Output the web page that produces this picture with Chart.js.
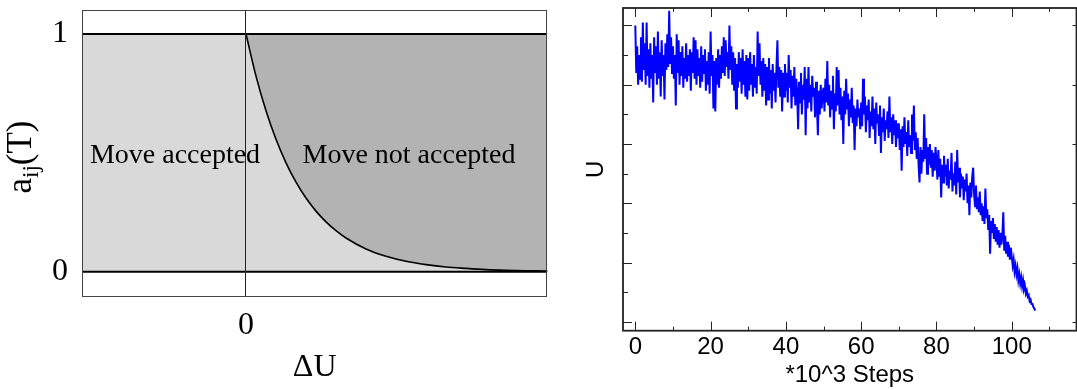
<!DOCTYPE html>
<html><head><meta charset="utf-8">
<script src="https://cdn.jsdelivr.net/npm/chart.js@4/dist/chart.umd.min.js"></script>
<style>
html,body{margin:0;padding:0;background:#fff;overflow:hidden}
#wrap{position:relative;width:1077px;height:390px;background:#fff}
#c1{position:absolute;left:0;top:0}
#c2{position:absolute;left:560px;top:0}
</style></head><body>
<div id="wrap">
<canvas id="c1" width="560" height="390"></canvas>
<canvas id="c2" width="517" height="390"></canvas>
</div>
<script>
// ---------- Left panel data ----------
const deltaU = [0, 0.1, 0.2, 0.3, 0.4, 0.5, 0.6, 0.7, 0.8, 0.9, 1.0, 1.2, 1.4, 1.6, 1.8, 2.0, 2.2, 2.4, 2.6, 2.8, 3.0, 3.05];
const acceptance = [1.000, 0.823, 0.677, 0.557, 0.458, 0.377, 0.310, 0.255, 0.210, 0.173, 0.142, 0.096, 0.065, 0.044, 0.030, 0.020, 0.014, 0.009, 0.006, 0.004, 0.003, 0.002];
const deltaURange = [-1.64, 3.013];
const leftTicksX = [0];
const leftTicksY = [0, 1];
const regionLabels = ['Move accepted', 'Move not accepted'];
const leftXTitle = 'ΔU';

// ---------- Right panel data ----------
const SAMPLE_SPACING = 0.25; // *10^3 steps between samples
const energyU = [
10.0,8.4,9.3,8.0,9.0,8.2,9.6,8.1,10.1,8.5,9.4,8.0,10.1,8.3,9.2,7.9,9.4,8.2,9.0,7.4,
9.6,8.4,9.3,8.0,9.8,8.2,9.1,7.6,9.5,8.3,9.0,7.5,9.4,8.5,9.7,8.6,10.5,8.7,9.6,8.4,
9.3,8.2,9.0,7.3,9.7,8.4,9.5,8.0,9.1,8.3,9.3,7.9,8.9,8.2,9.4,8.1,9.0,8.3,9.2,7.8,
9.1,8.4,9.6,8.2,9.5,8.0,9.2,8.3,8.9,7.9,9.3,8.1,9.0,8.4,9.2,7.8,8.8,8.0,9.1,7.7,
9.8,8.3,9.0,7.2,8.8,7.1,8.9,8.0,9.2,7.9,9.0,8.2,9.3,8.4,9.6,8.3,9.5,8.6,9.1,8.2,
10.0,8.5,9.3,8.0,9.1,7.8,8.9,7.2,8.7,7.9,9.1,8.1,8.9,7.7,9.2,8.0,8.8,7.6,9.0,7.5,
8.9,7.8,9.1,8.0,8.7,7.6,9.0,7.9,8.6,7.7,9.8,8.3,9.4,8.0,8.8,7.6,8.9,7.8,8.7,7.3,
8.6,7.5,8.9,7.7,8.5,7.2,8.7,7.8,8.4,7.4,8.6,9.5,7.9,8.6,7.6,8.5,7.1,8.4,7.6,8.7,
7.8,8.4,7.4,9.0,7.9,8.5,7.2,8.3,7.6,8.6,7.3,8.2,7.7,6.5,8.1,7.4,8.4,7.0,8.0,7.5,
8.6,6.3,8.2,7.2,8.6,7.4,8.0,7.1,8.3,7.6,7.9,6.9,8.1,7.3,6.3,7.8,7.0,8.0,7.2,7.7,
7.9,7.1,8.2,7.4,8.8,7.3,8.0,6.9,7.8,7.2,8.3,6.5,7.7,7.1,8.6,7.3,8.5,7.0,7.9,6.8,
7.6,6.0,7.8,7.0,8.2,7.2,7.7,6.6,7.5,6.9,7.9,6.7,7.3,5.8,7.2,6.6,7.5,6.9,7.2,6.5,
7.4,6.6,8.2,7.0,7.6,6.4,7.3,6.8,7.5,6.2,7.1,6.6,7.6,6.5,7.2,6.0,7.4,6.7,7.0,6.3,
7.3,5.7,6.9,6.4,7.2,6.1,6.8,6.5,7.1,6.2,7.6,6.4,6.9,6.0,7.0,6.3,6.8,5.9,6.7,6.2,
6.7,5.8,6.5,5.1,6.6,5.9,6.9,6.0,6.4,5.6,6.8,5.9,6.3,5.7,7.0,6.1,7.3,5.8,6.4,5.5,
6.2,5.3,4.7,5.9,5.0,5.8,5.4,7.0,5.5,6.2,5.0,5.9,5.3,6.0,5.2,5.8,4.9,5.7,5.1,5.9,
5.4,4.8,5.8,4.9,5.5,4.2,5.3,4.7,5.6,4.9,5.3,4.6,5.5,4.5,5.1,4.8,5.7,4.4,5.0,4.6,
5.4,4.3,5.8,4.7,5.2,4.2,5.0,4.5,4.9,4.1,4.8,4.4,5.0,4.0,4.6,3.6,4.7,4.2,4.9,5.2,
4.3,3.9,4.6,3.8,4.2,3.7,4.4,3.6,4.0,3.4,3.9,3.3,4.5,3.5,3.8,3.1,3.6,2.3,3.4,3.0,
3.5,2.8,3.3,2.7,3.2,2.6,3.1,2.5,3.0,2.6,2.9,3.7,2.4,2.9,2.3,2.7,2.2,2.6,2.1,2.5,
2.2,1.9,2.1,1.7,1.9,1.6,1.8,1.4,1.6,1.3,1.5,1.2,1.4,1.1,1.2,0.95,1.05,0.85,0.9,0.7,
0.75,0.6,0.6,0.5,0.45,0.38
];
const stepsK = energyU.map((_, i) => i * SAMPLE_SPACING);
const stepsRange = [-3.27, 117.2];
const uRange = [-0.30, 10.59];
const stepTickInterval = 10;
const stepLabelInterval = 20;
const uTickInterval = 1;
const rightXTitle = '*10^3 Steps';
const rightYTitle = 'U';

function noOverflow(s) { s.paddingTop = 0; s.paddingBottom = 0; s.paddingLeft = 0; s.paddingRight = 0; }

// ---------- Left chart ----------
const serif = 'Liberation Serif';
const leftDecor = {
  id: 'leftDecor',
  afterDraw(chart) {
    const {ctx, chartArea: a, scales: {x, y}} = chart;
    ctx.save();
    // frame
    ctx.strokeStyle = '#444';
    ctx.lineWidth = 1;
    ctx.strokeRect(Math.round(a.left) + 0.5, Math.round(a.top) + 0.5, Math.round(a.right - a.left) - 1, Math.round(a.bottom - a.top));
    // region labels
    ctx.fillStyle = '#000';
    ctx.font = '28px "' + serif + '"';
    ctx.textAlign = 'center';
    ctx.textBaseline = 'middle';
    const pos = chart.options.plugins.leftDecor.labelPos;
    regionLabels.forEach((t, i) => {
      ctx.fillText(t, x.getPixelForValue(pos[i][0]), y.getPixelForValue(pos[i][1]));
    });
    // y title a_ij(T)
    const cx = 31, cy = (a.top + a.bottom) / 2 + 4;
    ctx.translate(cx, cy);
    ctx.rotate(-Math.PI / 2);
    ctx.textAlign = 'left';
    ctx.textBaseline = 'alphabetic';
    const big = '35px "' + serif + '"', small = '23px "' + serif + '"';
    ctx.font = big; const wa = ctx.measureText('a').width; const wt = ctx.measureText('(T)').width;
    ctx.font = small; const ws = ctx.measureText('ij').width;
    let sx = -(wa + ws + wt) / 2;
    ctx.font = big; ctx.fillText('a', sx, 0); sx += wa;
    ctx.font = small; ctx.fillText('ij', sx, 7); sx += ws;
    ctx.font = big; ctx.fillText('(T)', sx, 0);
    ctx.restore();
  }
};

new Chart(document.getElementById('c1'), {
  type: 'line',
  data: {
    datasets: [
      { // accepted region (light)
        data: [{x: deltaURange[0], y: 1}, {x: deltaURange[1], y: 1}],
        borderWidth: 0, borderColor: 'rgba(0,0,0,0)', pointRadius: 0,
        fill: {value: 0}, backgroundColor: '#d9d9d9', order: 4
      },
      { // acceptance curve, not accepted region above it (dark)
        data: deltaU.map((v, i) => ({x: v, y: acceptance[i]})),
        borderColor: '#000', borderWidth: 1.6, pointRadius: 0,
        cubicInterpolationMode: 'monotone',
        fill: {target: {value: 1}, above: 'rgba(0,0,0,0)', below: '#b3b3b3'}, order: 3
      },
      { data: [{x: deltaURange[0], y: 1}, {x: deltaURange[1], y: 1}], borderColor: '#000', borderWidth: 2, pointRadius: 0, fill: false, order: 2 },
      { data: [{x: deltaURange[0], y: 0}, {x: deltaURange[1], y: 0}], borderColor: '#000', borderWidth: 2, pointRadius: 0, fill: false, order: 1 }
    ]
  },
  options: {
    responsive: false, animation: false, devicePixelRatio: 1,
    layout: {padding: {left: 0, top: 10, right: 12.7, bottom: 0}},
    plugins: {legend: {display: false}, tooltip: {enabled: false},
      leftDecor: {labelPos: [[-0.71, 0.49], [1.63, 0.49]]}},
    scales: {
      x: {
        type: 'linear', min: deltaURange[0], max: deltaURange[1],
        afterBuildTicks: s => { s.ticks = leftTicksX.map(v => ({value: v})); },
        afterFit: s => { s.height = 94; noOverflow(s); },
        grid: {display: true, drawOnChartArea: true, drawTicks: false, color: '#222', lineWidth: 1, z: 1},
        border: {display: false},
        ticks: {font: {family: serif, size: 32}, color: '#000', padding: 10, maxRotation: 0, autoSkip: false},
        title: {display: true, text: leftXTitle, color: '#000', font: {family: serif, size: 32}, padding: {top: 0, bottom: 3}}
      },
      y: {
        type: 'linear', min: -0.102, max: 1.101,
        afterBuildTicks: s => { s.ticks = leftTicksY.map(v => ({value: v})); },
        afterFit: s => { s.width = 82; noOverflow(s); },
        grid: {display: false, drawTicks: false},
        border: {display: false},
        ticks: {font: {family: serif, size: 32}, color: '#000', padding: 14}
      }
    }
  },
  plugins: [leftDecor]
});

// ---------- Right chart ----------
const sans = 'Liberation Sans';
const rightDecor = {
  id: 'rightDecor',
  afterDraw(chart) {
    const {ctx, chartArea: a, scales: {x, y}} = chart;
    ctx.save();
    ctx.strokeStyle = '#222';
    ctx.lineWidth = 1;
    ctx.beginPath();
    x.ticks.forEach(t => {
      const px = Math.round(x.getPixelForValue(t.value)) + 0.5;
      const len = (t.value % stepLabelInterval === 0) ? 9 : 4;
      ctx.moveTo(px, a.bottom); ctx.lineTo(px, a.bottom - len);
      ctx.moveTo(px, a.top); ctx.lineTo(px, a.top + len);
    });
    y.ticks.forEach(t => {
      const py = Math.round(y.getPixelForValue(t.value)) + 0.5;
      const major = t.value % 2 === 0;
      ctx.moveTo(a.left, py); ctx.lineTo(a.left + (major ? 9 : 5), py);
      if (major) { ctx.moveTo(a.right, py); ctx.lineTo(a.right - 4, py); }
    });
    ctx.stroke();
    ctx.lineWidth = 1.8;
    ctx.strokeRect(a.left, a.top, a.right - a.left, a.bottom - a.top);
    ctx.restore();
  }
};

new Chart(document.getElementById('c2'), {
  type: 'line',
  data: {
    datasets: [{
      data: energyU.map((v, i) => ({x: stepsK[i], y: v})),
      borderColor: '#0000ff', borderWidth: 2, pointRadius: 0, fill: false, tension: 0
    }]
  },
  options: {
    responsive: false, animation: false, devicePixelRatio: 1,
    layout: {padding: {left: 0, top: 8, right: 0.5, bottom: 0}},
    plugins: {legend: {display: false}, tooltip: {enabled: false}},
    scales: {
      x: {
        type: 'linear', min: stepsRange[0], max: stepsRange[1],
        afterFit: s => { s.height = 59.3; noOverflow(s); },
        grid: {display: false, drawTicks: false},
        border: {display: false},
        ticks: {stepSize: stepTickInterval, includeBounds: false, autoSkip: false, maxRotation: 0,
          font: {family: sans, size: 24}, color: '#000', padding: 2,
          callback: v => (v % stepLabelInterval === 0 ? String(v) : '')},
        title: {display: true, text: rightXTitle, color: '#000', font: {family: sans, size: 24}, padding: {top: 0, bottom: 0}}
      },
      y: {
        type: 'linear', min: uRange[0], max: uRange[1],
        afterFit: s => { s.width = 63; noOverflow(s); },
        grid: {display: false, drawTicks: false},
        border: {display: false},
        ticks: {stepSize: uTickInterval, includeBounds: false, display: false},
        title: {display: true, text: rightYTitle, color: '#000', font: {family: sans, size: 24}, padding: {top: 22, bottom: 0}}
      }
    }
  },
  plugins: [rightDecor]
});
</script>
</body></html>
